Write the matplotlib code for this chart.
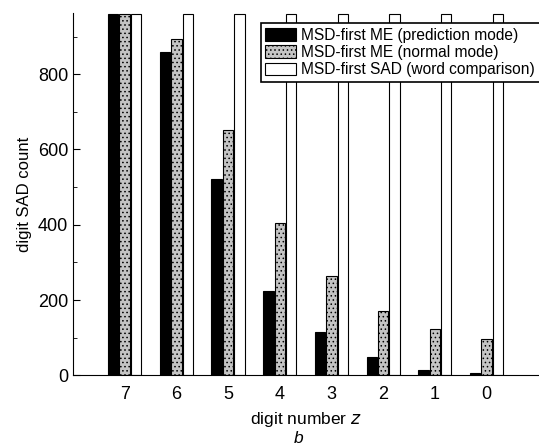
import matplotlib
matplotlib.use("Agg")
import matplotlib.pyplot as plt
import numpy as np

digits = ["7", "6", "5", "4", "3", "2", "1", "0"]
pred_mode = [960, 858, 521, 225, 114, 49, 14, 5]
normal_mode = [960, 894, 653, 404, 265, 171, 123, 96]
word_cmp = [960, 960, 960, 960, 960, 960, 960, 960]
labels = ["MSD-first ME (prediction mode)",
          "MSD-first ME (normal mode)",
          "MSD-first SAD (word comparison)"]

plt.rcParams["font.family"] = ["Liberation Sans", "DejaVu Sans"]
plt.rcParams["hatch.color"] = "#8a8a8a"
plt.rcParams["hatch.linewidth"] = 0.6

fig = plt.figure(figsize=(5.39, 4.48), dpi=100)
ax = fig.add_axes([0.1354, 0.1623, 0.863, 0.809])

x = np.arange(1, len(digits) + 1)
w, off = 0.2, 0.22
ax.bar(x - off, pred_mode, w, color="black", edgecolor="black", lw=0.8, label=labels[0])
ax.bar(x, normal_mode, w, color="#c4c4c4", edgecolor="black", lw=0.8,
       hatch="....", label=labels[1])
ax.bar(x + off, word_cmp, w, color="white", edgecolor="black", lw=0.8, label=labels[2])

ax.set_xlim(0, 9)
ax.set_ylim(0, 963)
ax.set_xticks(x)
ax.set_xticklabels(digits)
ax.set_yticks([0, 200, 400, 600, 800])
ax.set_yticks(np.arange(100, 1000, 200), minor=True)
ax.tick_params(axis="y", direction="in", length=5, labelsize=13)
ax.tick_params(axis="y", which="minor", direction="in", length=3)
ax.tick_params(axis="x", length=0, labelsize=13, pad=8)
for s in ["top", "right"]:
    ax.spines[s].set_visible(False)

ax.set_ylabel("digit SAD count", fontsize=12)
ax.set_xlabel("digit number $z$", fontsize=12.5, labelpad=5)
fig.text(0.553, 0.012, "b", fontsize=12.5, style="italic", ha="center")

leg = ax.legend(loc="upper right", bbox_to_anchor=(1.003, 0.972), fontsize=11.2,
                fancybox=False, edgecolor="black", framealpha=1,
                handlelength=2.0, handleheight=0.9, handletextpad=0.3,
                borderpad=0.3, labelspacing=0.15, borderaxespad=0)
leg.get_frame().set_linewidth(1.2)

fig.savefig("out.png", dpi=100)
